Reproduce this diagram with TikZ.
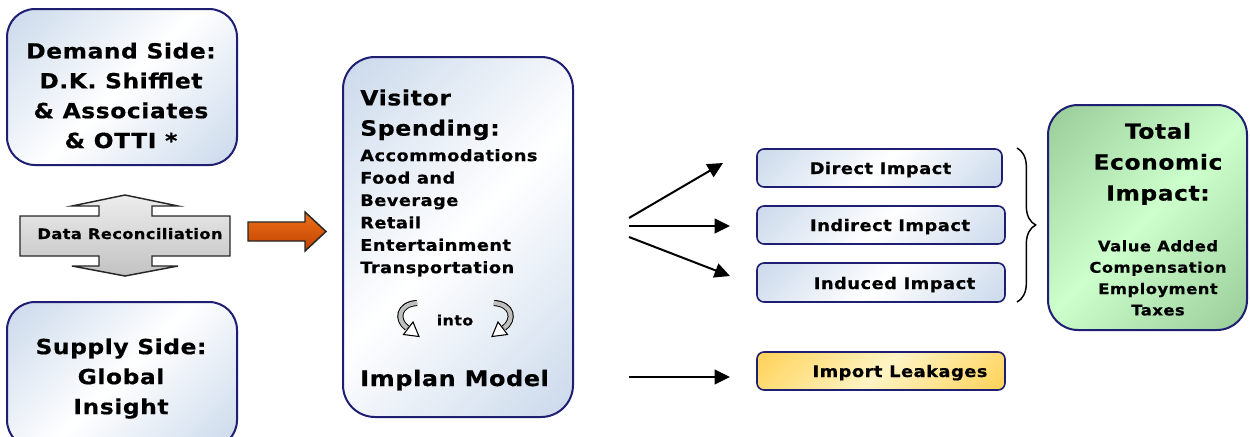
\documentclass[tikz,border=0pt]{standalone}
\usepackage{fontspec}
\setmainfont{DejaVu Sans}[FakeStretch=1.12, LetterSpace=3, BoldFeatures={FakeBold=0.6}]
\usetikzlibrary{decorations.pathreplacing, arrows.meta, calc}

\definecolor{navy}{HTML}{1E1E72}
\definecolor{boxblue}{HTML}{B3C8E2}
\definecolor{boxgreen}{HTML}{84B684}
\definecolor{lightgreen}{HTML}{CCFFCC}
\definecolor{boxgold}{HTML}{FFC42A}
\definecolor{lightgold}{HTML}{FFF4C4}
\definecolor{orangetop}{HTML}{F07018}
\definecolor{orangebot}{HTML}{BE4200}

\pgfdeclarehorizontalshading{bluediag}{100bp}{color(0bp)=(boxblue); color(22bp)=(boxblue!55); color(50bp)=(white); color(78bp)=(boxblue!55); color(100bp)=(boxblue)}
\pgfdeclarehorizontalshading{greendiag}{100bp}{color(0bp)=(boxgreen); color(25bp)=(boxgreen!50!lightgreen); color(50bp)=(lightgreen); color(75bp)=(boxgreen!50!lightgreen); color(100bp)=(boxgreen)}
\pgfdeclarehorizontalshading{golddiag}{100bp}{color(0bp)=(boxgold); color(25bp)=(boxgold!50!lightgold); color(50bp)=(lightgold); color(75bp)=(boxgold!50!lightgold); color(100bp)=(boxgold)}

% one drawing unit = one pixel of a 96 dpi screen
\newcommand\pxu{0.75pt}
\newcommand\setfs[2]{\fontsize{#1}{#2}\selectfont\bfseries}

\tikzset{
  bigbox/.style={draw=navy, line width=1.5pt, inner sep=0pt, shade, shading=bluediag,
    shading angle=-45, rounded corners=28*\pxu},
  smallbox/.style={draw=navy, line width=1.2pt, inner sep=0pt, shade, shading=bluediag,
    shading angle=-45, rounded corners=7*\pxu, minimum height=38*\pxu},
  txt/.style={inner sep=0pt, text=black},
  fanarrow/.style={line width=1.5pt, -{Triangle[length=11.5pt, width=11pt]}},
  curlband/.style={line width=4.6pt, black},
  curlfill/.style={line width=3.1pt, gray!50},
  curlhead/.style={line width=0.8pt, fill=white},
}

\begin{document}
\begin{tikzpicture}[x=0.75pt, y=-0.75pt]
\path[use as bounding box] (0,0) rectangle (1250,436);
\clip (0,0) rectangle (1250,436);
\fill[white] (0,0) rectangle (1250,436);

% ---- source boxes on the left
\node[bigbox, minimum width=230*\pxu, minimum height=156*\pxu] (demand) at (122,87) {};
\node[txt, align=center, font=\setfs{15.6pt}{22.4pt}] (demandtxt) at (121,95.5)
  {Demand Side:\\D.K. Shifflet\\\& Associates\\\& OTTI *};

\node[bigbox, minimum width=230*\pxu, minimum height=146*\pxu] (supply) at (122,375) {};
\node[txt, align=center, font=\setfs{15.6pt}{22.5pt}] (supplytxt) at (121,378.5)
  {Supply Side:\\Global\\Insight};

% ---- reconciliation double arrow
\draw[line width=1.1pt, draw=black!85, top color=gray!14, bottom color=gray!48]
  (20,216) -- (99,216) -- (99,206) -- (72,206) -- (125,195) -- (178,206) -- (152,206)
  -- (152,216) -- (230,216) -- (230,256) -- (152,256) -- (152,266) -- (178,266)
  -- (125,276) -- (72,266) -- (99,266) -- (99,256) -- (20,256) -- cycle;
\node[txt, anchor=base, font=\setfs{10.85pt}{13pt}] (recon) at (130,239) {Data Reconciliation};

% ---- orange block arrow
\draw[line width=1.1pt, draw=black!85, top color=orangetop, bottom color=orangebot]
  (248,222) -- (305,222) -- (305,212) -- (326,231.5) -- (305,251) -- (305,241)
  -- (248,241) -- cycle;

% ---- visitor spending box
\node[bigbox, rounded corners=32*\pxu, minimum width=230*\pxu, minimum height=360*\pxu] (visitor) at (458,237) {};
\node[txt, anchor=west, align=left, font=\setfs{15.75pt}{22.7pt}] (vhead) at (360,114.8)
  {Visitor\\Spending:};
\node[txt, anchor=west, align=left, font=\setfs{11.9pt}{16.8pt}] (vlist) at (360,212.8)
  {Accommodations\\Food and\\Beverage\\Retail\\Entertainment\\Transportation};
\node[txt, anchor=base, font=\setfs{10.6pt}{13pt}] (into) at (455,325.4) {into};
\node[txt, anchor=base west, font=\setfs{16pt}{20pt}] (implan) at (360,386) {Implan Model};

% curled arrows beside "into"
\draw[curlband] (417,303) .. controls (398,304) and (396,320) .. (407,328);
\draw[curlfill] (417.5,303) .. controls (398,304) and (396,320) .. (407,328);
\draw[curlhead] (419,336.5) -- (403.5,334.5) -- (413,322) -- cycle;
\draw[curlband] (494,303) .. controls (513,304) and (515,320) .. (504,328);
\draw[curlfill] (493.5,303) .. controls (513,304) and (515,320) .. (504,328);
\draw[curlhead] (492,336.5) -- (507.5,334.5) -- (498,322) -- cycle;

% ---- impact boxes
\node[smallbox, minimum width=245*\pxu] (direct) at (879.5,168) {};
\node[txt, anchor=base, font=\setfs{11.95pt}{14pt}] (directtxt) at (880.5,174) {Direct Impact};
\node[smallbox, minimum width=248*\pxu] (indirect) at (881,225) {};
\node[txt, anchor=base, font=\setfs{11.95pt}{14pt}] (indirecttxt) at (890,231) {Indirect Impact};
\node[smallbox, minimum width=248*\pxu, minimum height=39*\pxu] (induced) at (881,282.5) {};
\node[txt, anchor=base, font=\setfs{11.95pt}{14pt}] (inducedtxt) at (894.5,289) {Induced Impact};
\node[smallbox, shading=golddiag, minimum width=248*\pxu] (import) at (881,371) {};
\node[txt, anchor=base, font=\setfs{11.95pt}{14pt}] (importtxt) at (900,377) {Import Leakages};

% ---- fan of arrows from the model to the impacts
\coordinate (f1) at (629,218);  \coordinate (t1) at (723,163);
\coordinate (f2) at (629,226);  \coordinate (t2) at (730,226);
\coordinate (f3) at (629,237);  \coordinate (t3) at (730,276);
\coordinate (f4) at (629,377);  \coordinate (t4) at (730,377);
\draw[fanarrow] (f1) -- (t1);
\draw[fanarrow] (f2) -- (t2);
\draw[fanarrow] (f3) -- (t3);
\draw[fanarrow] (f4) -- (t4);

% ---- brace gathering the three impacts
\coordinate (btop) at (1017,148);
\coordinate (bbot) at (1017,302);
\draw[line width=1.1pt, decorate, decoration={brace, amplitude=14pt}] (btop) -- (bbot);

% ---- total economic impact
\node[bigbox, shading=greendiag, rounded corners=30*\pxu, minimum width=199*\pxu, minimum height=225*\pxu] (total) at (1147.5,217.5) {};
\node[txt, align=center, font=\setfs{15.6pt}{23.2pt}] (totalhead) at (1158,163.9)
  {Total\\Economic\\Impact:};
\node[txt, align=center, font=\setfs{11pt}{16pt}] (totallist) at (1158,277.9)
  {Value Added\\Compensation\\Employment\\Taxes};
\end{tikzpicture}
\end{document}
